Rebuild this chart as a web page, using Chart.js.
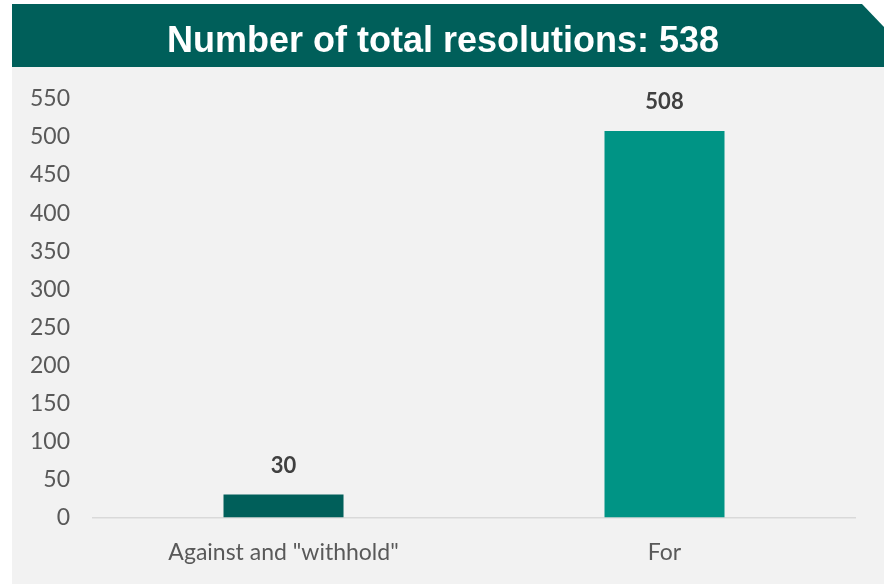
<!DOCTYPE html>
<html lang="en">
  <head>
    <meta charset="UTF-8" />
    <title>Number of total resolutions</title>
    <script src="https://cdn.jsdelivr.net/npm/chart.js"></script>
    <style>
      html, body { margin: 0; padding: 0; background: #ffffff; }
      #wrap { width: 884px; height: 584px; }
    </style>
  </head>
  <body>
    <div id="wrap"><canvas id="votesChart" width="884" height="584"></canvas></div>
    <script>
      const categories = ['Against and "withhold"', "For"];
      const votes = [30, 508];
      const barColors = ["#005F5A", "#009485"];
      const yTicks = [0, 50, 100, 150, 200, 250, 300, 350, 400, 450, 500, 550];
      const titleText = "Number of total resolutions: 538";

      // grey panel + teal banner with cut corner, title centred on the banner
      const backdrop = {
        id: "backdrop",
        beforeDraw(chart) {
          const c = chart.ctx;
          c.save();
          c.fillStyle = "#F2F2F2";
          c.fillRect(12, 67, chart.width - 12, chart.height - 67);
          c.fillStyle = "#005F5A";
          c.beginPath();
          c.moveTo(12, 4);
          c.lineTo(862, 4);
          c.lineTo(884, 27);
          c.lineTo(884, 67);
          c.lineTo(12, 67);
          c.closePath();
          c.fill();
          c.fillStyle = "#ffffff";
          c.font = "bold 36px 'Liberation Sans', Arial, sans-serif";
          c.textAlign = "center";
          c.textBaseline = "middle";
          c.fillText(titleText, 443, 42);
          c.restore();
        },
      };

      // bold value labels above the bars
      const valueLabels = {
        id: "valueLabels",
        afterDatasetsDraw(chart) {
          const c = chart.ctx;
          const meta = chart.getDatasetMeta(0);
          c.save();
          c.font = "bold 22px Lato, 'Open Sans', sans-serif";
          c.fillStyle = "#404040";
          c.textAlign = "center";
          c.textBaseline = "middle";
          meta.data.forEach((bar, i) => {
            c.fillText(chart.data.datasets[0].data[i], bar.x, bar.y - 29);
          });
          c.restore();
        },
      };

      const ctx = document.getElementById("votesChart").getContext("2d");
      new Chart(ctx, {
        type: "bar",
        data: {
          labels: categories,
          datasets: [
            {
              data: votes,
              backgroundColor: barColors,
              barPercentage: 0.63,
              categoryPercentage: 0.5,
            },
          ],
        },
        options: {
          responsive: false,
          animation: false,
          layout: { padding: { left: 15, right: 29, top: 99, bottom: 5 } },
          plugins: {
            legend: { display: false },
            tooltip: { enabled: false },
            title: { display: false },
          },
          scales: {
            x: {
              grid: { display: false },
              border: { display: true, color: "#D9D9D9", width: 1.5 },
              ticks: {
                color: "#595959",
                font: { family: "Lato, 'Open Sans', sans-serif", size: 23 },
                padding: 13,
              },
            },
            y: {
              min: 0,
              max: 550,
              grid: { display: false },
              border: { display: false },
              afterBuildTicks(axis) {
                axis.ticks = yTicks.map((v) => ({ value: v }));
              },
              ticks: {
                color: "#595959",
                font: { family: "Lato, 'Open Sans', sans-serif", size: 23 },
                padding: 15,
              },
            },
          },
        },
        plugins: [backdrop, valueLabels],
      });
    </script>
  </body>
</html>
